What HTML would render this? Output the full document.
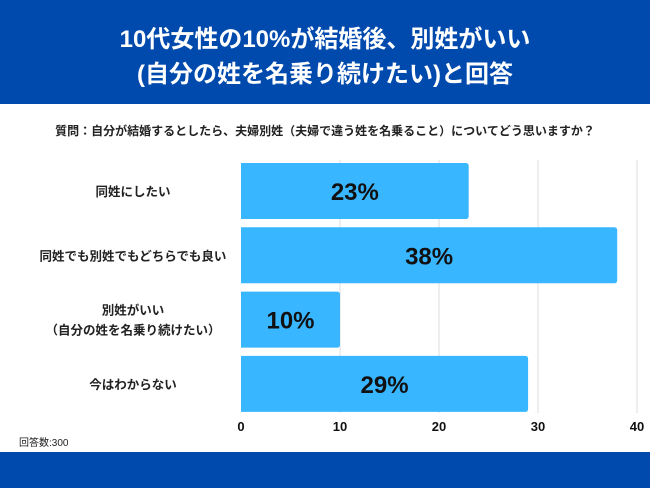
<!DOCTYPE html>
<html><head><meta charset="utf-8"><style>
html,body{margin:0;padding:0;background:#fff;}
body{width:650px;height:488px;overflow:hidden;position:relative;font-family:"Liberation Sans","Noto Sans CJK JP",sans-serif;}
.hdr{position:absolute;left:0;top:0;width:650px;height:104px;background:#004aad;color:#fff;font-weight:bold;font-size:24px;line-height:35px;text-align:center;padding-top:22px;box-sizing:border-box;}
.ftr{position:absolute;left:0;top:452px;width:650px;height:36px;background:#004aad;}
svg{position:absolute;left:0;top:0;}
</style></head><body>
<div class="hdr">10代女性の10%が結婚後、別姓がいい<br>(自分の姓を名乗り続けたい)と回答</div>
<div class="ftr"></div>
<svg id="c" width="650" height="488"></svg>
<script>
const categories=[["同姓にしたい"],["同姓でも別姓でもどちらでも良い"],["別姓がいい","（自分の姓を名乗り続けたい）"],["今はわからない"]];
const values=[23,38,10,29];
const ticks=[0,10,20,30,40];
const NS="http://www.w3.org/2000/svg";
const svg=document.getElementById('c');
const x0=241,x1=637,xmax=40;
const xs=v=>x0+(x1-x0)*v/xmax;
const rowTop=163,rowStep=64.3,barH=56;
const yb=i=>rowTop+i*rowStep;
function mk(t,a,txt){const e=document.createElementNS(NS,t);for(const k in a)e.setAttribute(k,a[k]);if(txt!=null)e.textContent=txt;svg.appendChild(e);return e;}
let q=mk('text',{x:325,y:135,'text-anchor':'middle','font-size':12,'font-weight':'bold',fill:'#222'},'質問：自分が結婚するとしたら、夫婦別姓（夫婦で違う姓を名乗ること）についてどう思いますか？');


ticks.forEach(t=>{
  if(t>0){let g=mk('line',{x1:xs(t),x2:xs(t),y1:160,y2:413,stroke:'#ddd','stroke-width':1});
  
  }
  let l=mk('text',{x:xs(t),y:431,'text-anchor':'middle','font-size':13,'font-weight':'bold',fill:'#111'},t);
  
  
});
values.forEach((v,i)=>{
  const y=yb(i);
  let b=mk('path',{d:`M${x0},${y}H${xs(v)-3}Q${xs(v)},${y} ${xs(v)},${y+3}V${y+barH-3}Q${xs(v)},${y+barH} ${xs(v)-3},${y+barH}H${x0}Z`,fill:'#38b6ff'});
  
  
  let vl=mk('text',{x:(x0+xs(v))/2,y:y+barH/2+9,'text-anchor':'middle','font-size':24,'font-weight':'bold',fill:'#111'},v+'%');
  
  
  const lines=categories[i];
  lines.forEach((s,j)=>{
    let c=mk('text',{x:133,y:y+barH/2+5+(j-(lines.length-1)/2)*20,'text-anchor':'middle','font-size':12.5,'font-weight':'bold',fill:'#222'},s);
    
    
  });
});
let n=mk('text',{x:19,y:446,'font-size':10,fill:'#222'},'回答数:300');


</script>
</body></html>
